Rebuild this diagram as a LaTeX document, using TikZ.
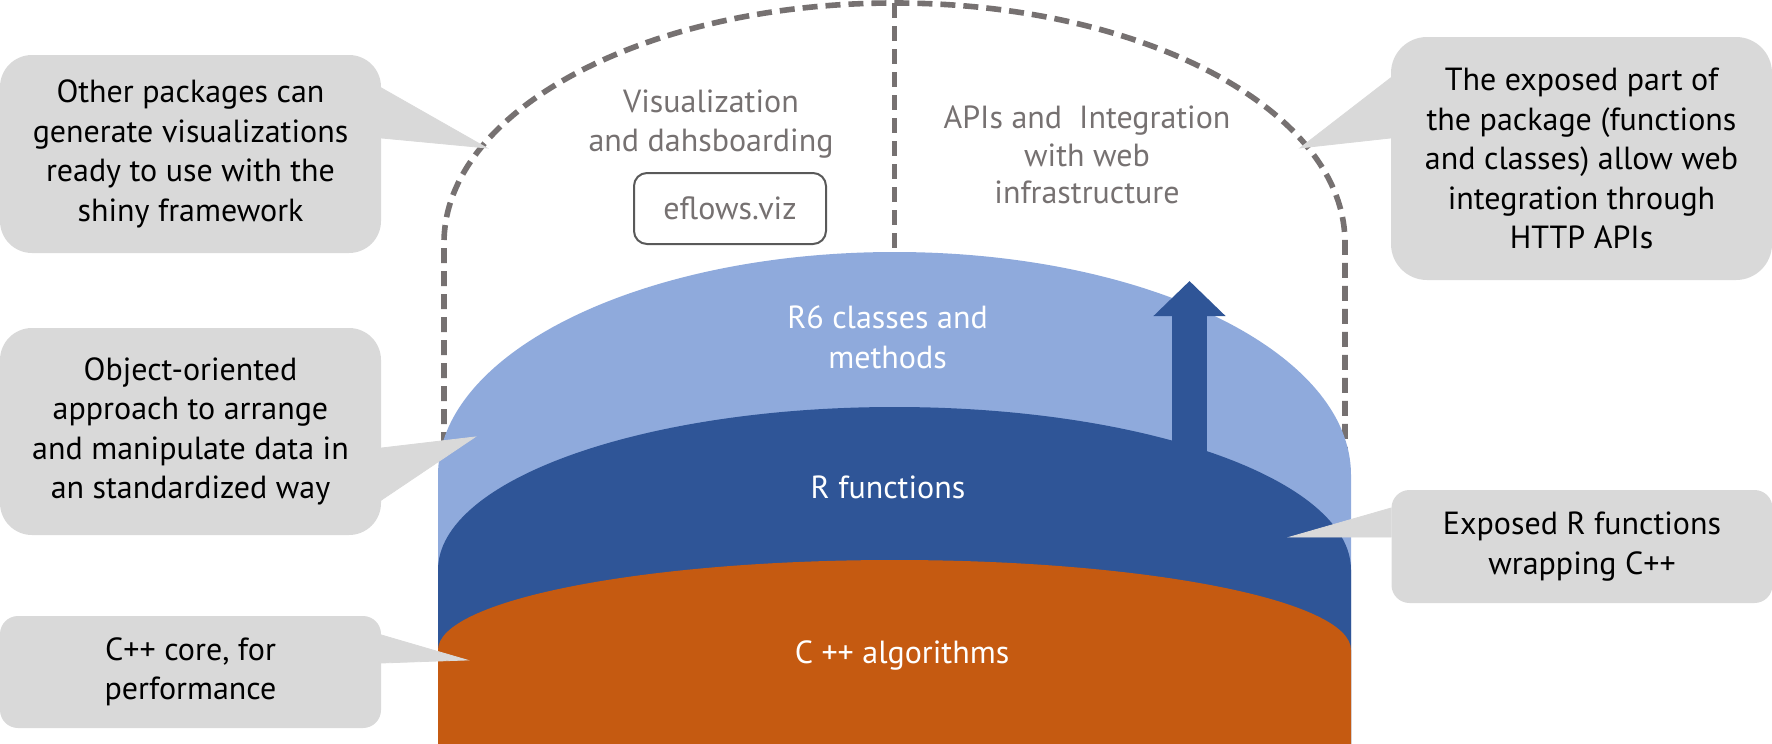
\documentclass[tikz,border=0pt]{standalone}
\usepackage{fontspec}
\setmainfont{PT Sans}
\usepackage{tikz}
\usetikzlibrary{arrows.meta}

\definecolor{lightlayer}{HTML}{8FAADC}
\definecolor{midlayer}{HTML}{2F5597}
\definecolor{corelayer}{HTML}{C55A11}
\definecolor{calloutgray}{HTML}{D9D9D9}
\definecolor{dashgray}{HTML}{767171}
\definecolor{boxgray}{HTML}{595959}

\begin{document}
\begin{tikzpicture}[x=0.5pt, y=-0.5pt]
    \tikzset{callout/.style = {fill=calloutgray, inner sep=0pt, align=center, text=black,
                               font=\fontsize{16}{19.75}\selectfont, minimum width=190.5pt}}
    \tikzset{pointer/.style = {fill=calloutgray, draw=calloutgray, line width=0.4pt}}
    \tikzset{label/.style = {align=center, text=dashgray, font=\fontsize{16}{19.5}\selectfont}}
    \tikzset{layerlabel/.style = {align=center, text=white, font=\fontsize{16}{20}\selectfont}}
    \tikzset{outline/.style = {draw=dashgray, line width=2.8pt, dash pattern=on 7.5pt off 4pt}}

    \useasboundingbox (0,0) rectangle (1772,744);

    % dashed frame
    \draw[outline] (444,470) -- (444,243)
        arc[start angle=180, end angle=360, x radius=450.5, y radius=240] -- (1345,470);
    \draw[outline] (894.5,3) -- (894.5,280);

    % layers
    \fill[lightlayer] (438,744) -- (438,475)
        arc[start angle=180, end angle=360, x radius=456.5, y radius=223] -- (1351,744) -- cycle;
    \fill[midlayer] (438,744) -- (438,570)
        arc[start angle=180, end angle=360, x radius=456.5, y radius=163] -- (1351,744) -- cycle;

    \coordinate (arrowfoot) at (1189.5,470);
    \coordinate (arrowtip) at (1189.5,281);
    \draw[midlayer, line width=17.5pt, -{Triangle[length=17.5pt, width=35pt]}] (arrowfoot) -- (arrowtip);

    \fill[corelayer] (438,744) -- (438,650)
        arc[start angle=180, end angle=360, x radius=456.5, y radius=90] -- (1351,744) -- cycle;

    % texts inside
    \node[label] (viz) at (711,124) {Visualization\\and dahsboarding};
    \node[label, draw=boxgray, line width=1pt, rounded corners=6.5pt,
          minimum width=96pt, minimum height=35.5pt] (eflows) at (730,208.5) {eflows.viz};
    \node[label, font=\fontsize{16}{18.75}\selectfont] (apis) at (1087,155)
        {APIs and~~Integration\\with web\\infrastructure};
    \node[layerlabel] (r6) at (887.5,337) {R6 classes and\\methods};
    \node[layerlabel] (rfun) at (888,487) {R functions};
    \node[layerlabel] (cpp) at (902,655) {C ++ algorithms};

    % callouts
    \node[callout, minimum height=99pt, rounded corners=16pt] (other) at (190.5,154)
        {Other packages can\\generate visualizations\\ready to use with the\\shiny framework};
    \coordinate (otherTip) at (487,148);
    \fill[pointer] (other.east |- 0,88) -- (otherTip) -- (other.east |- 0,138) -- cycle;

    \node[callout, minimum height=103.5pt, rounded corners=16pt] (oop) at (190.5,431.5)
        {Object-oriented\\approach to arrange\\and manipulate data in\\an standardized way};
    \coordinate (oopTip) at (475,437);
    \fill[pointer] (oop.east |- 0,448) -- (oopTip) -- (oop.east |- 0,500) -- cycle;

    \node[callout, minimum height=56pt, rounded corners=9pt] (core) at (190.5,672)
        {C++ core, for\\performance};
    \coordinate (coreTip) at (467,660);
    \fill[pointer] (core.east |- 0,635) -- (coreTip) -- (core.east |- 0,663) -- cycle;

    \node[callout, minimum height=121.5pt, rounded corners=18pt] (web) at (1581.5,158.5)
        {The exposed part of\\the package (functions\\and classes) allow web\\integration through\\HTTP APIs};
    \coordinate (webTip) at (1300,148);
    \fill[pointer] (web.west |- 0,78) -- (webTip) -- (web.west |- 0,138) -- cycle;

    \node[callout, minimum height=56.5pt, rounded corners=9pt] (wrap) at (1582,546.5)
        {Exposed R functions\\wrapping C++};
    \coordinate (wrapTip) at (1290,537);
    \fill[pointer] (wrap.west |- 0,508) -- (wrapTip) -- (wrap.west |- 0,537) -- cycle;

\end{tikzpicture}
\end{document}
